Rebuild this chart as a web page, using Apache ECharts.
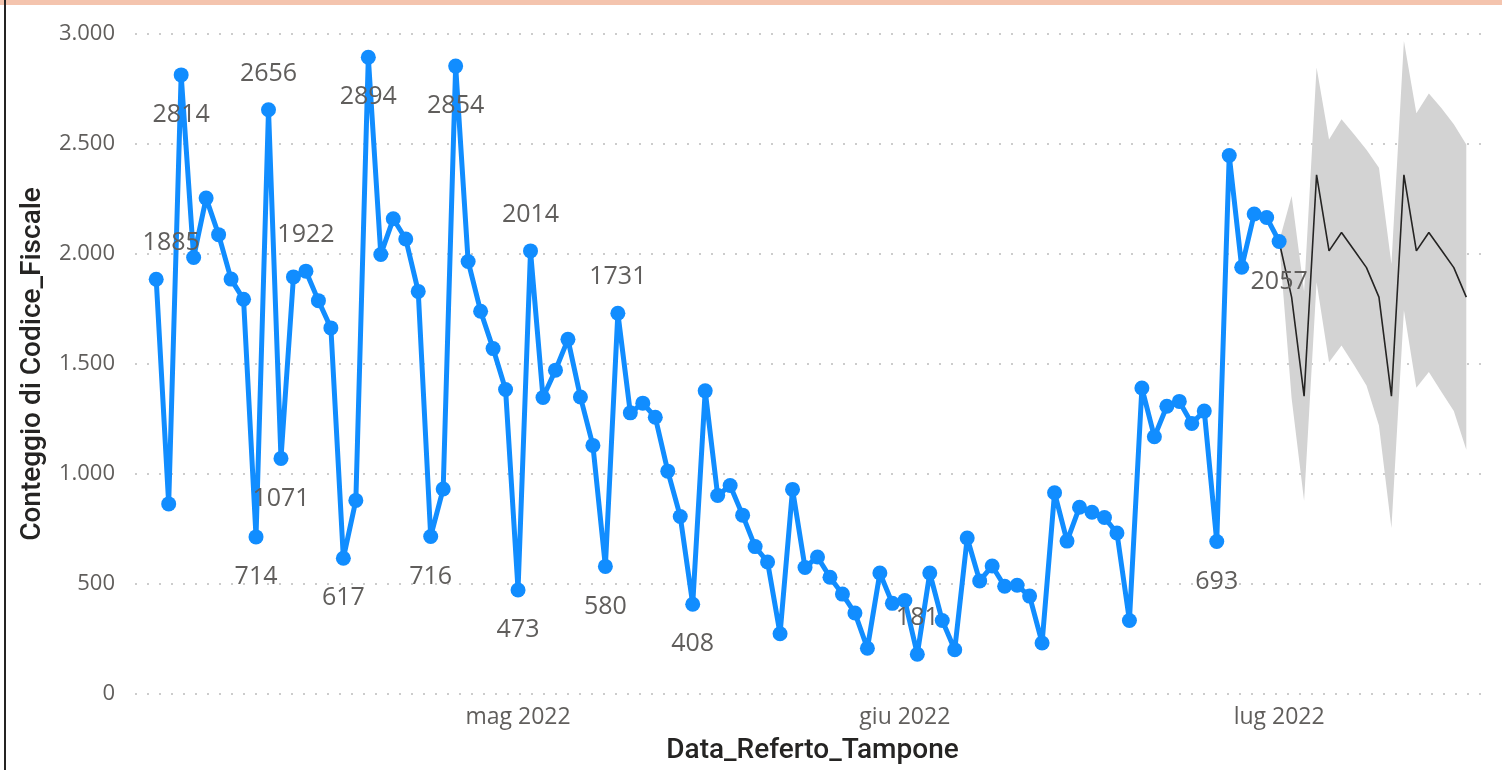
<!DOCTYPE html>
<html>
<head>
<meta charset="utf-8">
<title>Conteggio di Codice_Fiscale</title>
<script src="https://cdn.jsdelivr.net/npm/echarts@6/dist/echarts.min.js"></script>
<style>
  html, body { margin: 0; padding: 0; background: #ffffff; }
  #chart { width: 1502px; height: 770px; }
</style>
</head>
<body>
<div id="chart"></div>
<script>
// daily counts, from 2 Apr 2022 to 1 Jul 2022
const startDay = [2022, 3, 2];
const counts = [
  1885, 864, 2814, 1984, 2254, 2088, 1886, 1794, 714, 2656,
  1071, 1896, 1922, 1788, 1664, 617, 880, 2894, 1998, 2160,
  2068, 1830, 716, 932, 2854, 1966, 1740, 1570, 1384, 473,
  2014, 1348, 1472, 1612, 1350, 1130, 580, 1731, 1278, 1322,
  1258, 1013, 807, 408, 1378, 902, 948, 813, 670, 600,
  274, 930, 575, 623, 531, 454, 368, 208, 550, 412,
  425, 181, 550, 334, 201, 709, 514, 582, 490, 494,
  445, 232, 915, 695, 849, 826, 802, 732, 334, 1391,
  1169, 1308, 1330, 1230, 1286, 693, 2448, 1940, 2182, 2166,
  2057
];
// points that carry a data label: index -> 'top' / 'bottom'
const labelled = {
  0: 'top', 2: 'bottom', 8: 'bottom', 9: 'top', 10: 'bottom', 12: 'top',
  15: 'bottom', 17: 'bottom', 22: 'bottom', 24: 'bottom', 29: 'bottom',
  30: 'top', 36: 'bottom', 37: 'top', 43: 'bottom', 61: 'top',
  85: 'bottom', 90: 'bottom'
};

// forecast, from 1 Jul 2022 (last real value) to 16 Jul 2022
const forecastStart = [2022, 6, 1];
const forecast = [2057, 1804, 1354, 2360, 2014, 2098, 2018, 1938, 1804, 1354, 2360, 2014, 2098, 2018, 1938, 1804];
const upperBound = [2057, 2264, 1830, 2848, 2520, 2612, 2544, 2474, 2392, 1954, 2968, 2640, 2730, 2664, 2590, 2498];
const lowerBound = [2057, 1344, 878, 1872, 1508, 1584, 1496, 1402, 1220, 754, 1744, 1392, 1464, 1374, 1286, 1110];

// x tick labels
const monthStarts = [[2022, 4, 1], [2022, 5, 1], [2022, 6, 1]];
const monthLabels = ['mag 2022', 'giu 2022', 'lug 2022'];

const DAY = 86400000;
function day(d, offset) {
  return new Date(d[0], d[1], d[2] + (offset || 0)).getTime();
}

const blueData = counts.map(function (v, i) {
  const item = { value: [day(startDay, i), v] };
  if (labelled[i]) {
    item.label = {
      show: true,
      position: labelled[i],
      distance: labelled[i] === 'top' ? 16 : 20
    };
    // power bi nudged the first label right to keep it inside
    if (i === 0) item.label.offset = [15, 0];
  }
  return item;
});
const fcData = forecast.map(function (v, i) { return [day(forecastStart, i), v]; });
const bandRows = forecast.map(function (v, i) { return [day(forecastStart, i), lowerBound[i], upperBound[i]]; });

const tickValues = monthStarts.map(function (d) { return day(d); });

function itNumber(v) {
  return String(v).replace(/\B(?=(\d{3})+(?!\d))/g, '.');
}

function monthLabel(v) {
  for (let i = 0; i < tickValues.length; i++) {
    if (Math.abs(tickValues[i] - v) < DAY / 2) return monthLabels[i];
  }
  return '';
}

const chart = echarts.init(document.getElementById('chart'));

const option = {
  animation: false,
  backgroundColor: '#ffffff',
  textStyle: { fontFamily: '"Open Sans", "Noto Sans", sans-serif' },
  graphic: [
    { type: 'rect', shape: { x: 0, y: 0, width: 1502, height: 5 }, style: { fill: '#f4c4ae' } },
    { type: 'rect', shape: { x: 4, y: 0, width: 2, height: 770 }, style: { fill: '#252423' } }
  ],
  grid: { left: 135, right: 12, top: 34, bottom: 75, containLabel: false },
  xAxis: {
    // timestamps on a plain value axis, labels only at month starts
    type: 'value',
    min: day(startDay) - 1.7 * DAY,
    max: day(forecastStart, forecast.length - 1) + 1.9 * DAY,
    name: 'Data_Referto_Tampone',
    nameLocation: 'middle',
    nameGap: 43,
    nameTextStyle: { fontFamily: 'Roboto, sans-serif', fontSize: 28, fontWeight: 500, color: '#252423' },
    axisLine: { show: false },
    axisTick: { show: false },
    splitLine: { show: false },
    axisLabel: {
      customValues: tickValues,
      color: '#605e5c',
      fontSize: 23,
      margin: 12,
      formatter: monthLabel
    }
  },
  yAxis: {
    type: 'value',
    min: 0,
    max: 3000,
    interval: 500,
    name: 'Conteggio di Codice_Fiscale',
    nameLocation: 'middle',
    nameGap: 88,
    nameTextStyle: { fontFamily: 'Roboto, sans-serif', fontSize: 28, fontWeight: 500, color: '#252423' },
    axisLine: { show: false },
    axisTick: { show: false },
    axisLabel: { color: '#605e5c', fontSize: 22, margin: 20, formatter: itNumber },
    splitLine: { lineStyle: { color: '#cccccc', width: 2, type: [2, 10] } }
  },
  series: [
    {
      // confidence band of the forecast, drawn as one polygon
      name: 'Intervallo',
      type: 'custom',
      data: bandRows,
      encode: { x: 0, y: [1, 2] },
      silent: true,
      z: 1,
      renderItem: function (params, api) {
        if (params.dataIndex !== 0) return null;
        const pts = [];
        bandRows.forEach(function (r) { pts.push(api.coord([r[0], r[2]])); });
        bandRows.slice().reverse().forEach(function (r) { pts.push(api.coord([r[0], r[1]])); });
        return { type: 'polygon', shape: { points: pts }, style: { fill: '#d3d3d3' } };
      }
    },
    {
      name: 'Previsione',
      type: 'line',
      data: fcData,
      showSymbol: false,
      lineStyle: { color: '#252423', width: 1.6 },
      z: 2
    },
    {
      name: 'Conteggio di Codice_Fiscale',
      type: 'line',
      data: blueData,
      symbol: 'circle',
      symbolSize: 15,
      itemStyle: { color: '#118dff' },
      lineStyle: { color: '#118dff', width: 5 },
      label: {
        show: false,
        color: '#605e5c',
        fontSize: 25,
        formatter: function (p) { return p.value[1]; }
      },
      z: 3
    }
  ]
};

chart.setOption(option);
</script>
</body>
</html>
